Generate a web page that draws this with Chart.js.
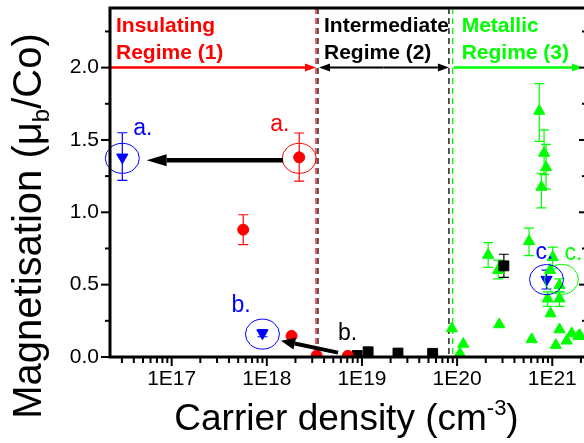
<!DOCTYPE html>
<html><head><meta charset="utf-8">
<script src="https://cdn.jsdelivr.net/npm/chart.js@4.4.0/dist/chart.umd.min.js"></script>
<style>
html,body{margin:0;padding:0;background:#fff;overflow:hidden;width:584px;height:443px}
#wrap{width:584px;height:443px;overflow:hidden;position:relative}
canvas{position:absolute;left:0;top:0}
</style></head><body>
<div id="wrap"><canvas id="c" width="600" height="443"></canvas></div>
<script>
const FONT = '"Liberation Sans", Arial, Helvetica, sans-serif';

// tick labels
const xTickValues = [1e17, 1e18, 1e19, 1e20, 1e21];
const xTickLabels = ['1E17', '1E18', '1E19', '1E20', '1E21'];
const yTickValues = [0, 0.5, 1.0, 1.5, 2.0];
const yTickLabels = ['0.0', '0.5', '1.0', '1.5', '2.0'];

// Insulating regime (red circles)
const redX  = [2.19e18, 5.65e17, 1.82e18, 3.34e18, 7.1e18];
const redY  = [1.38, 0.88, 0.146, 0.010, 0.008];
const redLo = [1.216, 0.777, null, null, null];
const redHi = [1.548, 0.983, null, null, null];

// Intermediate regime (black squares)
const blackX  = [8.9e18, 1.16e19, 2.39e19, 5.53e19, 3.1e20];
const blackY  = [0.010, 0.036, 0.027, 0.025, 0.63];
const blackLo = [null, null, null, null, 0.55];
const blackHi = [null, null, null, null, 0.71];

// Metallic regime (green up triangles)
const greenX  = [7.3e20, 8.2e20, 8.6e20, 7.7e20, 5.7e20, 2.12e20, 2.7e20, 1.01e21, 9.5e20, 1.19e21,
                 8.95e20, 1.19e21, 9.6e20, 2.77e20, 1.19e21, 6.07e20, 1.6e21, 1.88e21, 1.42e21, 1.09e21,
                 1.95e21, 8.8e19, 1.16e20, 1.07e20];
const greenY  = [1.70, 1.41, 1.31, 1.175, 0.80, 0.705, 0.60, 0.69, 0.60, 0.495,
                 0.403, 0.403, 0.30, 0.225, 0.19, 0.122, 0.163, 0.144, 0.112, 0.082,
                 0.15, 0.197, 0.09, 0.025];
const greenLo = [1.49, 1.26, 1.16, 1.03, 0.70, 0.62, 0.54, 0.61, null, 0.45,
                 0.35, 0.35, null, null, null, null, null, null, null, null,
                 null, null, null, null];
const greenHi = [1.89, 1.57, 1.47, 1.27, 0.89, 0.79, 0.67, 0.76, null, 0.54,
                 0.45, 0.45, null, null, null, null, null, null, null, null,
                 null, null, null, null];

// Blue down triangles (a., b., c.)
const blueX  = [3.03e16, 9.0e17, 8.7e20];
const blueY  = [1.38, 0.165, 0.535];
const blueLo = [1.22, 0.14, 0.47];
const blueHi = [1.55, 0.19, 0.60];

// Regime boundaries
const redBoundary = 3.29e18, blackBoundary1 = 3.45e18, blackBoundary2 = 8.2e19, greenBoundary = 8.98e19;
const regimeArrowY = 2.0;
const xMin = Math.pow(10, 16.352), xMax = Math.pow(10, 21.386);
const yMin = 0, yMax = 2.412;

const RED = '#ff0000', GREEN = '#00ff00', BLUE = '#0000ff', BLACK = '#000000';

function pts(xs, ys) { return xs.map((x, i) => ({x: x, y: ys[i]})); }

function arrow(ctx, x1, y1, x2, y2, lw, hl, hw, color) {
  const ang = Math.atan2(y2 - y1, x2 - x1);
  const bx = x2 - Math.cos(ang) * hl, by = y2 - Math.sin(ang) * hl;
  ctx.save();
  ctx.strokeStyle = color; ctx.fillStyle = color; ctx.lineWidth = lw; ctx.setLineDash([]);
  ctx.beginPath(); ctx.moveTo(x1, y1); ctx.lineTo(bx, by); ctx.stroke();
  ctx.beginPath();
  ctx.moveTo(x2, y2);
  ctx.lineTo(bx + Math.sin(ang) * hw, by - Math.cos(ang) * hw);
  ctx.lineTo(bx - Math.sin(ang) * hw, by + Math.cos(ang) * hw);
  ctx.closePath(); ctx.fill();
  ctx.restore();
}

function noPad(s) { s.paddingTop = 0; s.paddingBottom = 0; s.paddingLeft = 0; s.paddingRight = 0; }

const decorPlugin = {
  id: 'decor',
  beforeDatasetsDraw(chart) {
    const ctx = chart.ctx, xs = chart.scales.x, ys = chart.scales.y, a = chart.chartArea;
    ctx.save();
    // dashed boundaries
    const dashed = (v, color) => {
      const px = xs.getPixelForValue(v);
      ctx.strokeStyle = color; ctx.lineWidth = 1.3; ctx.setLineDash([6, 4]);
      ctx.beginPath(); ctx.moveTo(px, a.top); ctx.lineTo(px, a.bottom); ctx.stroke();
    };
    dashed(redBoundary, RED); dashed(blackBoundary1, BLACK);
    dashed(blackBoundary2, BLACK); dashed(greenBoundary, GREEN);
    ctx.setLineDash([]);
    // regime arrows
    const py = ys.getPixelForValue(regimeArrowY);
    const pR = xs.getPixelForValue(redBoundary), pB1 = xs.getPixelForValue(blackBoundary1);
    const pB2 = xs.getPixelForValue(blackBoundary2), pG = xs.getPixelForValue(greenBoundary);
    arrow(ctx, a.left, py, pR, py, 2.5, 11, 4, RED);
    const mid = (pB1 + pB2) / 2;
    arrow(ctx, mid, py, pB1 + 1, py, 2, 11, 4, BLACK);
    arrow(ctx, mid, py, pB2, py, 2, 11, 4, BLACK);
    arrow(ctx, pG + 1, py, 583, py, 2.5, 11, 4, GREEN);
    // regime labels
    ctx.font = 'bold 21px ' + FONT; ctx.textAlign = 'left'; ctx.textBaseline = 'alphabetic';
    ctx.fillStyle = RED; ctx.fillText('Insulating', a.left + 6, 32); ctx.fillText('Regime (1)', a.left + 6, 59);
    ctx.fillStyle = BLACK; ctx.fillText('Intermediate', pB1 + 6, 32); ctx.fillText('Regime (2)', pB1 + 6, 59);
    ctx.fillStyle = GREEN; ctx.fillText('Metallic', pG + 9, 32); ctx.fillText('Regime (3)', pG + 9, 59);
    // error bars
    chart.data.datasets.forEach(ds => {
      if (!ds.errLo) return;
      ctx.strokeStyle = ds.errColor; ctx.lineWidth = 1.2;
      ds.data.forEach((p, i) => {
        if (ds.errLo[i] == null) return;
        const px = xs.getPixelForValue(p.x);
        const y1 = ys.getPixelForValue(ds.errLo[i]), y2 = ys.getPixelForValue(ds.errHi[i]);
        ctx.beginPath();
        ctx.moveTo(px, y1); ctx.lineTo(px, y2);
        ctx.moveTo(px - 5, y1); ctx.lineTo(px + 5, y1);
        ctx.moveTo(px - 5, y2); ctx.lineTo(px + 5, y2);
        ctx.stroke();
      });
    });
    ctx.restore();
  },
  afterDatasetsDraw(chart) {
    const ctx = chart.ctx, xs = chart.scales.x, ys = chart.scales.y, a = chart.chartArea;
    const P = (x, y) => [xs.getPixelForValue(x), ys.getPixelForValue(y)];
    ctx.save();
    // circles
    const ell = (x, y, color, dx, dy) => {
      const [px, py] = P(x, y);
      ctx.strokeStyle = color; ctx.lineWidth = 1;
      ctx.beginPath(); ctx.ellipse(px + (dx || 0), py + (dy || 0), 17, 15, 0, 0, Math.PI * 2); ctx.stroke();
    };
    ell(blueX[0], blueY[0], BLUE, 0, 1);
    ell(redX[0], redY[0], RED, 0, 1);
    ell(blueX[1], blueY[1], BLUE, 0, 1);
    ell(blueX[2], blueY[2], BLUE, 0, 0);
    ell(greenX[9], greenY[9], GREEN, 2, -6);
    // big arrow a
    const [ax1, ay1] = P(1.48e18, 1.36), [ax2, ay2] = P(5.46e16, 1.36);
    arrow(ctx, ax1, ay1, ax2, ay2, 4.5, 20, 6, BLACK);
    // arrow b
    const [bx1, by1] = P(5.6e18, 0.03), [bx2, by2] = P(1.41e18, 0.113);
    arrow(ctx, bx1, by1, bx2, by2, 4, 14, 6, BLACK);
    // labels
    ctx.font = '23px ' + FONT; ctx.textAlign = 'left'; ctx.textBaseline = 'alphabetic';
    const lab = (txt, x, y, dx, dy, color) => {
      const [px, py] = P(x, y); ctx.fillStyle = color; ctx.fillText(txt, px + dx, py + dy);
    };
    lab('a.', blueX[0], blueY[0], 11, -22, BLUE);
    lab('a.', redX[0], redY[0], -29, -26, RED);
    lab('b.', blueX[1], blueY[1], -31, -21, BLUE);
    lab('b.', 5.6e18, 0.03, 0, -13, BLACK);
    lab('c.', blueX[2], blueY[2], -11, -21, BLUE);
    lab('c.', greenX[9], greenY[9], 5, -25, GREEN);

    // axes
    ctx.strokeStyle = BLACK; ctx.lineWidth = 3; ctx.setLineDash([]);
    ctx.beginPath();
    ctx.moveTo(a.left, a.top); ctx.lineTo(a.right, a.top); ctx.lineTo(a.right, a.bottom);
    ctx.lineTo(a.left, a.bottom); ctx.closePath(); ctx.stroke();
    ctx.lineWidth = 2;
    // x ticks
    for (let d = 16; d <= 21; d++) {
      for (let k = 1; k <= 9; k++) {
        const v = k * Math.pow(10, d);
        if (v < xMin || v > xMax) continue;
        const px = xs.getPixelForValue(v);
        const len = k === 1 ? 9 : 6;
        ctx.beginPath(); ctx.moveTo(px, a.bottom); ctx.lineTo(px, a.bottom + len); ctx.stroke();
      }
    }
    // y ticks (left outward, right inward)
    for (let v = 0; v <= yMax + 1e-9; v += 0.25) {
      const py = ys.getPixelForValue(v);
      const major = Math.abs(v * 2 - Math.round(v * 2)) < 1e-6;
      const len = major ? 9 : 5;
      ctx.beginPath(); ctx.moveTo(a.left - len, py); ctx.lineTo(a.left, py); ctx.stroke();
      ctx.beginPath(); ctx.moveTo(a.right, py); ctx.lineTo(a.right - (major ? 10 : 7), py); ctx.stroke();
    }
    // axis titles
    ctx.fillStyle = BLACK; ctx.textAlign = 'left'; ctx.textBaseline = 'alphabetic';
    const big = 37, small = 22;
    ctx.font = big + 'px ' + FONT;
    const t1 = 'Carrier density (cm', t3 = ')';
    const w1 = ctx.measureText(t1).width, w3 = ctx.measureText(t3).width;
    ctx.font = small + 'px ' + FONT; const w2 = ctx.measureText('-3').width;
    let sx = 346.5 - (w1 + w2 + w3) / 2;
    const base = 430;
    ctx.font = big + 'px ' + FONT; ctx.fillText(t1, sx, base);
    ctx.font = small + 'px ' + FONT; ctx.fillText('-3', sx + w1, base - 15);
    ctx.font = big + 'px ' + FONT; ctx.fillText(t3, sx + w1 + w2, base);

    ctx.save();
    ctx.translate(41, 226); ctx.rotate(-Math.PI / 2);
    const yb = 40, ys2 = 24;
    ctx.font = yb + 'px ' + FONT;
    const u1 = 'Magnetisation (\u03bc', u3 = '/Co)';
    const v1 = ctx.measureText(u1).width, v3 = ctx.measureText(u3).width;
    ctx.font = ys2 + 'px ' + FONT; const v2 = ctx.measureText('b').width;
    const s0 = -(v1 + v2 + v3) / 2;
    ctx.font = yb + 'px ' + FONT; ctx.fillText(u1, s0, 0);
    ctx.font = ys2 + 'px ' + FONT; ctx.fillText('b', s0 + v1, 8);
    ctx.font = yb + 'px ' + FONT; ctx.fillText(u3, s0 + v1 + v2, 0);
    ctx.restore();
    ctx.restore();
  }
};

const ctx = document.getElementById('c').getContext('2d');
new Chart(ctx, {
  type: 'scatter',
  data: {
    datasets: [
      {label: 'Insulating', data: pts(redX, redY), pointStyle: 'circle', pointRadius: 5.5,
       backgroundColor: RED, borderColor: RED, borderWidth: 1, errLo: redLo, errHi: redHi, errColor: RED},
      {label: 'Intermediate', data: pts(blackX, blackY), pointStyle: 'rect', pointRadius: 7,
       backgroundColor: BLACK, borderColor: BLACK, borderWidth: 1, errLo: blackLo, errHi: blackHi, errColor: BLACK},
      {label: 'Metallic', data: pts(greenX, greenY), pointStyle: 'triangle', pointRadius: 6.5,
       backgroundColor: GREEN, borderColor: GREEN, borderWidth: 1, errLo: greenLo, errHi: greenHi, errColor: GREEN},
      {label: 'Reference', data: pts(blueX, blueY), pointStyle: 'triangle', rotation: 180, pointRadius: 6.5,
       backgroundColor: BLUE, borderColor: BLUE, borderWidth: 1, errLo: blueLo, errHi: blueHi, errColor: BLUE}
    ]
  },
  options: {
    responsive: false, animation: false, devicePixelRatio: 1,
    layout: {padding: {top: 6, right: 11, left: 0, bottom: 0}},
    plugins: {legend: {display: false}, tooltip: {enabled: false}},
    scales: {
      x: {
        type: 'logarithmic', min: xMin, max: xMax,
        afterBuildTicks: s => { s.ticks = xTickValues.map(v => ({value: v})); },
        afterFit: s => { s.height = 86; noPad(s); },
        grid: {display: false, drawTicks: false}, border: {display: false},
        ticks: {autoSkip: false, maxRotation: 0, padding: 10, color: BLACK,
                font: {family: FONT, size: 21}, callback: (v, i) => xTickLabels[i]}
      },
      y: {
        type: 'linear', min: yMin, max: yMax,
        afterBuildTicks: s => { s.ticks = yTickValues.map(v => ({value: v})); },
        afterFit: s => { s.width = 110; noPad(s); },
        grid: {display: false, drawTicks: false}, border: {display: false},
        ticks: {padding: 11, color: BLACK, font: {family: FONT, size: 21}, callback: (v, i) => yTickLabels[i]}
      }
    }
  },
  plugins: [decorPlugin]
});
</script>
</body></html>
